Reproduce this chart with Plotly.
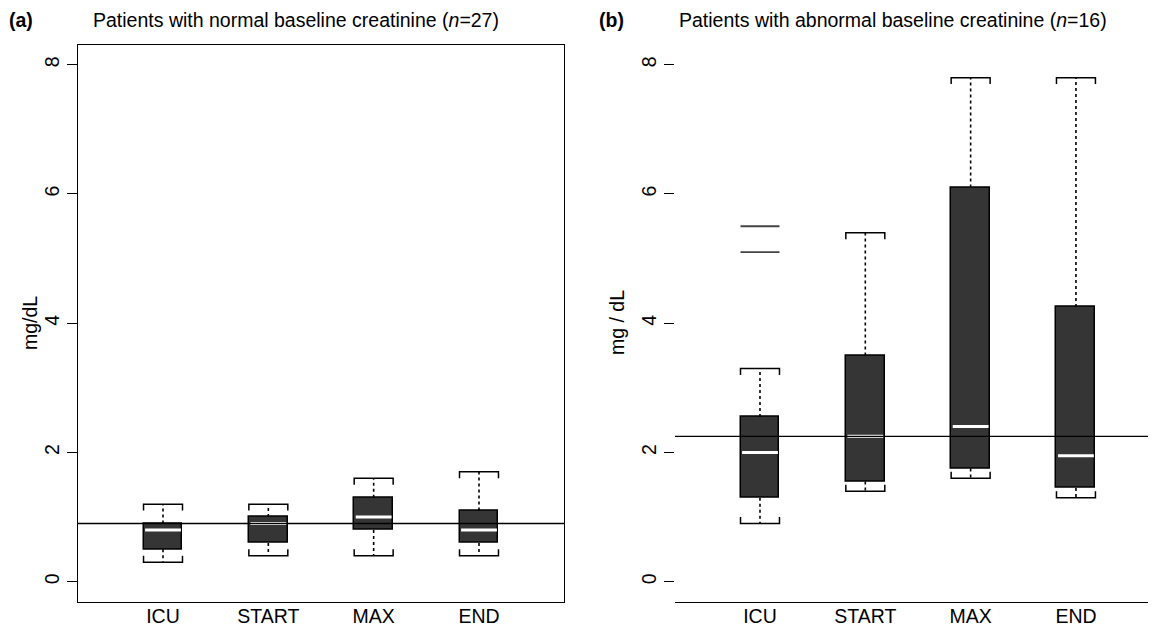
import plotly.graph_objects as go
import numpy as np

# ---------------- data ----------------
CATEGORIES = ["ICU", "START", "MAX", "END"]
POSITIONS = [1, 2, 3, 4]
Y_TICKS = [0, 2, 4, 6, 8]

# panel (a): normal baseline creatinine (n=27)
A_LOWER = [0.3, 0.4, 0.4, 0.4]
A_Q1 = [0.5, 0.6, 0.8, 0.6]
A_MEDIAN = [0.8, 0.9, 1.0, 0.8]
A_Q3 = [0.9, 1.0, 1.3, 1.1]
A_UPPER = [1.2, 1.2, 1.6, 1.7]
A_REF = 0.9

# panel (b): abnormal baseline creatinine (n=16)
B_LOWER = [0.9, 1.4, 1.6, 1.3]
B_Q1 = [1.3, 1.55, 1.75, 1.45]
B_MEDIAN = [2.0, 2.25, 2.4, 1.95]
B_Q3 = [2.55, 3.5, 6.1, 4.25]
B_UPPER = [3.3, 5.4, 7.8, 7.8]
B_REF = 2.25
B_OUTLIER_POS = [1, 1]
B_OUTLIER_Y = [5.1, 5.5]

TITLE_A = "Patients with normal baseline creatinine (<i>n</i>=27)"
TITLE_B = "Patients with abnormal baseline creatinine (<i>n</i>=16)"

# ---------------- style ----------------
OFF = 8                      # page body margin of the html document
W, H = 1156 - OFF, 629 - OFF
FONT = "Liberation Sans, Arial, Helvetica, sans-serif"
FS = 19.5
BOX_W = 0.37
HALF = BOX_W / 2
CAP_D = 0.1


def px(x):
    return (x - OFF) / W


def py(y):
    return 1 - (y - OFF) / H


fig = go.Figure()


def add_panel(xa, ya, lower, q1, med, q3, upper, out_pos=None, out_y=None):
    xs_w, ys_w = [], []
    xs_c, ys_c = [], []
    xs_m, ys_m = [], []
    for p, lo, a, m, b, up in zip(POSITIONS, lower, q1, med, q3, upper):
        xs_w += [p, p, None, p, p, None]
        ys_w += [b, up, None, a, lo, None]
        xs_c += [p - HALF, p - HALF, p + HALF, p + HALF, None,
                 p - HALF, p - HALF, p + HALF, p + HALF, None]
        ys_c += [up - CAP_D, up, up, up - CAP_D, None,
                 lo + CAP_D, lo, lo, lo + CAP_D, None]
        xs_m += [p - HALF + 0.015, p + HALF - 0.015, None]
        ys_m += [m, m, None]
    fig.add_trace(go.Scatter(x=xs_w, y=ys_w, mode="lines",
                             line=dict(color="black", width=1.6, dash="dot"),
                             xaxis=xa, yaxis=ya, hoverinfo="skip", showlegend=False))
    fig.add_trace(go.Scatter(x=xs_c, y=ys_c, mode="lines",
                             line=dict(color="black", width=1.5),
                             xaxis=xa, yaxis=ya, hoverinfo="skip", showlegend=False))
    fig.add_trace(go.Bar(x=POSITIONS, y=list(np.array(q3) - np.array(q1)), base=q1,
                         width=BOX_W, marker=dict(color="#353535",
                                                  line=dict(color="black", width=1.5)),
                         xaxis=xa, yaxis=ya, showlegend=False))
    fig.add_trace(go.Scatter(x=xs_m, y=ys_m, mode="lines",
                             line=dict(color="white", width=3),
                             xaxis=xa, yaxis=ya, hoverinfo="skip", showlegend=False))
    if out_pos:
        xs_o, ys_o = [], []
        for p, v in zip(out_pos, out_y):
            xs_o += [p - HALF, p + HALF, None]
            ys_o += [v, v, None]
        fig.add_trace(go.Scatter(x=xs_o, y=ys_o, mode="lines",
                                 line=dict(color="#444444", width=1.8),
                                 xaxis=xa, yaxis=ya, hoverinfo="skip", showlegend=False))


add_panel("x", "y", A_LOWER, A_Q1, A_MEDIAN, A_Q3, A_UPPER)
add_panel("x2", "y2", B_LOWER, B_Q1, B_MEDIAN, B_Q3, B_UPPER, B_OUTLIER_POS, B_OUTLIER_Y)

ydom = [py(601.7), py(44.7)]
yrange = [-0.31, 8.31]

common_x = dict(tickmode="array", tickvals=POSITIONS, ticktext=CATEGORIES, ticks="",
                showgrid=False, zeroline=False, showline=True, linecolor="black",
                linewidth=1, tickfont=dict(size=FS, color="black", family=FONT),
                ticklabelstandoff=-3, automargin=False, fixedrange=True)
common_y = dict(tickmode="array", tickvals=Y_TICKS, ticks="outside", ticklen=10,
                tickcolor="black", tickwidth=1, tickangle=-90, showgrid=False,
                zeroline=False, range=yrange, domain=ydom,
                tickfont=dict(size=FS, color="black", family=FONT),
                automargin=False, fixedrange=True)

fig.update_layout(
    width=W, height=H,
    margin=dict(l=0, r=0, t=0, b=0),
    paper_bgcolor="white", plot_bgcolor="white",
    showlegend=False, bargap=0,
    font=dict(family=FONT, size=FS, color="black"),
    xaxis=dict(domain=[px(78), px(564)], range=[0.193, 4.807], mirror=True,
               anchor="y", **common_x),
    yaxis=dict(anchor="x", showline=True, linecolor="black", linewidth=1,
               mirror=True, **common_y),
    xaxis2=dict(domain=[px(675), 1.0], range=[0.193, 4.76], anchor="y2", **common_x),
    yaxis2=dict(anchor="x2", showline=False, **common_y),
)

# reference lines
fig.add_shape(type="line", xref="x domain", yref="y", x0=0, x1=1, y0=A_REF, y1=A_REF,
              line=dict(color="black", width=1.3))
fig.add_shape(type="line", xref="x2 domain", yref="y2", x0=0, x1=1, y0=B_REF, y1=B_REF,
              line=dict(color="black", width=1.3))

# titles
TY = 20
for txt, xpos in [("<b>(a)</b>", 7), (TITLE_A, 91), ("<b>(b)</b>", 597), (TITLE_B, 677)]:
    fig.add_annotation(text=txt, xref="paper", yref="paper", x=px(xpos), y=py(TY),
                       xanchor="left", yanchor="middle", showarrow=False,
                       font=dict(size=FS, family=FONT))

# y-axis titles
fig.add_annotation(text="mg/dL", xref="paper", yref="paper", x=px(30), y=py(323),
                   xanchor="center", yanchor="middle", textangle=-90, showarrow=False,
                   font=dict(size=FS, family=FONT))
fig.add_annotation(text="mg / dL", xref="paper", yref="paper", x=px(617), y=py(323),
                   xanchor="center", yanchor="middle", textangle=-90, showarrow=False,
                   font=dict(size=FS, family=FONT))

fig.write_html("out.html")
